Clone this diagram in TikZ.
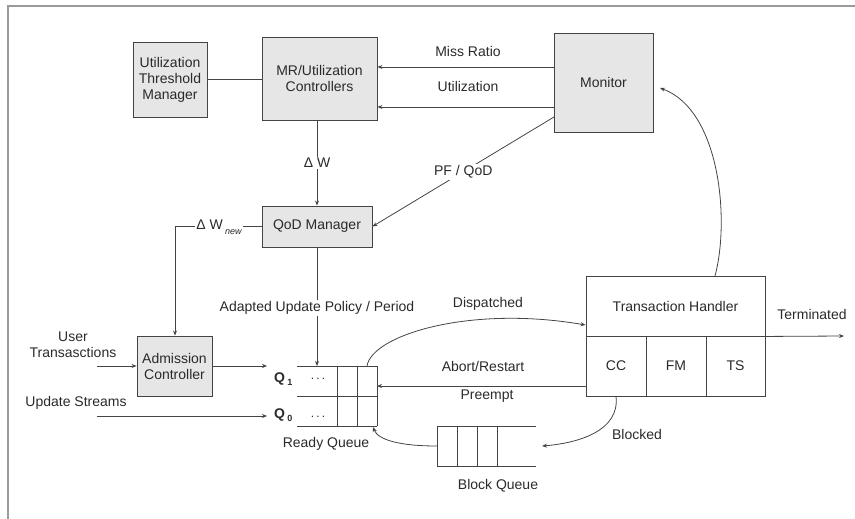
\documentclass[tikz,border=0pt]{standalone}
\usepackage{fontspec}
\setmainfont{Liberation Sans}
\usetikzlibrary{arrows.meta,calc}
\definecolor{boxfill}{HTML}{E6E6E6}
\definecolor{linecol}{HTML}{444444}
\definecolor{txtcol}{HTML}{2A2A2A}
\definecolor{framecol}{HTML}{9A9A9A}
\begin{document}
\begin{tikzpicture}[x=1pt,y=-1pt,
  every node/.style={font=\fontsize{14}{16}\selectfont, text=txtcol, inner sep=1pt},
  gbox/.style={draw=linecol, fill=boxfill, line width=0.9pt, align=center, inner sep=0pt},
  wbox/.style={draw=linecol, fill=white, line width=0.9pt, align=center, inner sep=0pt},
  conn/.style={draw=linecol, line width=0.8pt},
  arr/.style={conn, -{Stealth[length=5pt,width=4pt]}},
  lbl/.style={fill=white, inner sep=1.5pt},
  qlbl/.style={anchor=base west, font=\fontsize{14}{16}\selectfont\bfseries},
  dotlbl/.style={anchor=base, font=\fontsize{12}{12}\selectfont},
]
\useasboundingbox (0,0) rectangle (855,519);
% frame
\coordinate (frtl) at (8,6);
\coordinate (frtr) at (855,6);
\coordinate (frbl) at (8,519);
\draw[framecol, line width=1.5pt] (frbl) -- (frtl) -- (frtr);

% boxes
\node[gbox, minimum width=74pt, minimum height=75pt] (utm) at (170,79.5) {Utilization\\Threshold\\Manager};
\node[gbox, minimum width=115pt, minimum height=83pt] (mr) at (319.5,78.5) {MR/Utilization\\Controllers};
\node[gbox, minimum width=99pt, minimum height=99pt] (mon) at (603.5,82.5) {Monitor};
\node[gbox, minimum width=110pt, minimum height=41pt] (qod) at (317,226.5) {QoD Manager};
\node[gbox, minimum width=75pt, minimum height=60pt] (ac) at (174.5,366) {Admission\\Controller};
\node[wbox, minimum width=179pt, minimum height=60pt] (th) at (675.5,306) {Transaction Handler};
\node[wbox, minimum width=60pt, minimum height=60pt] (cc) at (616,366) {CC};
\node[wbox, minimum width=60pt, minimum height=60pt] (fm) at (676,366) {FM};
\node[wbox, minimum width=59pt, minimum height=60pt] (ts) at (735.5,366) {TS};

% ready queue
\coordinate (rq1) at (297,366);
\coordinate (rq2) at (377,366);
\coordinate (rq3) at (297,396);
\coordinate (rq4) at (377,396);
\coordinate (rq5) at (297,426);
\coordinate (rq6) at (377,426);
\draw[conn] (rq1) -- (rq2) (rq3) -- (rq4) (rq5) -- (rq6);
\draw[conn] (337,366) -- (337,426) (357,366) -- (357,426) (rq2) -- (rq6);
\node[dotlbl] (d1) at (318,379) {.\hspace{2.2pt}.\hspace{2.2pt}.};
\node[dotlbl] (d0) at (318,417) {.\hspace{2.2pt}.\hspace{2.2pt}.};
\node[qlbl] (q1) at (273,382) {Q\,\raisebox{-3pt}{\fontsize{9}{9}\selectfont 1}};
\node[qlbl] (q0) at (273,418) {Q\,\raisebox{-3pt}{\fontsize{9}{9}\selectfont 0}};
\node (rqlbl) at (326,444) {Ready Queue};

% block queue
\coordinate (bq1) at (437,426);
\coordinate (bq2) at (536,426);
\coordinate (bq3) at (437,466);
\coordinate (bq4) at (536,466);
\draw[conn] (bq2) -- (bq1) -- (bq3) -- (bq4);
\draw[conn] (457,426) -- (457,466) (477,426) -- (477,466) (497,426) -- (497,466);
\node (bqlbl) at (498,486) {Block Queue};

% helper coordinates
\coordinate (mry1) at (0,67);
\coordinate (mry2) at (0,107);
\coordinate (pfs) at (554,117);
\coordinate (dwx) at (175,0);
\coordinate (utin) at (97,366);
\coordinate (usin) at (97,416);
\coordinate (q1in) at (267,366);
\coordinate (q0in) at (267,416);
\coordinate (rqtop) at (317,366);
\coordinate (rqright) at (377,386);
\coordinate (rqdisp) at (367,366);
\coordinate (rqbot) at (373,427);
\coordinate (bqleft) at (437,446);
\coordinate (bqright) at (542,446);
\coordinate (dispy) at (0,325);
\coordinate (termend) at (844,336);
\coordinate (thmon) at (715,276);
\coordinate (monin) at (660,88);

% connectors
\draw[conn] (utm.east) -- (utm.east -| mr.west);
\draw[arr] (mon.west |- mry1) -- (mr.east |- mry1);
\draw[arr] (mon.west |- mry2) -- (mr.east |- mry2);
\draw[arr] (qod.north |- mr.south) -- (qod.north) node[lbl, midway] (dwl) {Δ W};
\draw[arr] (pfs) -- (qod.east) node[lbl, pos=0.5] (pfl) {PF / QoD};
\draw[arr] (qod.west) -- (dwx |- qod.west) -- (dwx |- ac.north);
\node[lbl] (dwn) at (219,227) {Δ W\,\raisebox{-5pt}{\fontsize{9}{9}\selectfont\itshape new}};
\draw[arr] (utin) -- (ac.west);
\draw[arr] (ac.east) -- (q1in);
\draw[arr] (usin) -- (q0in);
\draw[arr] (qod.south) -- (rqtop) node[lbl, pos=0.51] (apl) {Adapted Update Policy / Period};
\draw[arr] (rqdisp) .. controls (372,335) and (470,305) .. (th.west |- dispy);
\draw[arr] (cc.west |- rqright) -- (rqright);
\draw[arr] (th.south east) -- (termend);
\draw[arr] (thmon) .. controls (730,220) and (720,110) .. (monin);
\draw[arr] (cc.south) .. controls (620,430) and (580,443) .. (bqright);
\draw[arr] (bqleft) .. controls (400,446) and (378,440) .. (rqbot);

% labels
\node (mrl) at (468,51) {Miss Ratio};
\node (utl) at (468,86) {Utilization};
\node (utrl) at (73,345) [align=center] {User\\Transasctions};
\node (usl) at (76,403) {Update Streams};
\node (displ) at (488,304) {Dispatched};
\node (abl) at (483,366) {Abort/Restart};
\node (prl) at (487,396) {Preempt};
\node (bll) at (637,434) {Blocked};
\node (terml) at (812,314) {Terminated};
\end{tikzpicture}
\end{document}
